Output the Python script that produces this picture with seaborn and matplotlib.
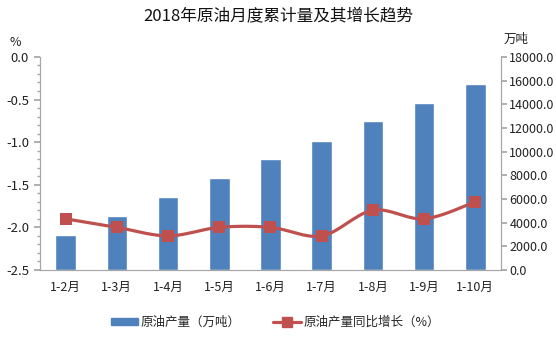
import numpy as np
import pandas as pd
import matplotlib
matplotlib.use("Agg")
import matplotlib.pyplot as plt
import seaborn as sns
from matplotlib.ticker import MultipleLocator, FormatStrFormatter
from matplotlib.lines import Line2D
from matplotlib.patches import Patch

months = ["1-2月", "1-3月", "1-4月", "1-5月", "1-6月", "1-7月", "1-8月", "1-9月", "1-10月"]
output_wt = [2990, 4600, 6170, 7800, 9360, 10930, 12570, 14090, 15700]   # 万吨
growth_pct = [-1.9, -2.0, -2.1, -2.0, -2.0, -2.1, -1.8, -1.9, -1.7]       # %

sns.set_theme(style="white")
plt.rcParams["font.family"] = ["Noto Sans CJK SC", "DejaVu Sans"]

BAR_C = "#4F81BD"
LINE_C = "#C0504D"
AXIS_C = "#A6A6A6"

fig = plt.figure(figsize=(5.56, 3.43), dpi=100)
ax = fig.add_axes([0.072, 0.213, 0.829, 0.621])

df = pd.DataFrame({"月份": months, "产量": output_wt, "增长": growth_pct})

# bars: cumulative output on the right-hand scale
sns.barplot(data=df, x="月份", y="产量", color=BAR_C, width=0.4, saturation=1, ax=ax)
ax.set_ylim(0, 18000)
ax.yaxis.set_major_locator(MultipleLocator(2000))
ax.yaxis.set_major_formatter(FormatStrFormatter("%.1f"))
ax.set_xlabel("")
ax.set_ylabel("")
ax.set_xlim(-0.5, len(months) - 0.5)

# line: year-on-year growth on the left-hand scale
ax2 = ax.twinx()
ax.yaxis.tick_right()
ax2.yaxis.tick_left()
ax2.set_ylim(-2.5, 0.0)
ax2.yaxis.set_major_locator(MultipleLocator(0.5))
ax2.yaxis.set_minor_locator(MultipleLocator(0.1))
ax2.yaxis.set_major_formatter(FormatStrFormatter("%.1f"))


def smooth(xs, ys, n=20, t=0.5):
    """Catmull-Rom style smoothing through the given points."""
    xs = np.asarray(xs, float)
    ys = np.asarray(ys, float)
    px = np.concatenate([[xs[0]], xs, [xs[-1]]])
    py = np.concatenate([[ys[0]], ys, [ys[-1]]])
    ox, oy = [], []
    for i in range(1, len(px) - 2):
        p0, p1, p2, p3 = (np.array([px[j], py[j]]) for j in (i - 1, i, i + 1, i + 2))
        m1 = t * (p2 - p0)
        m2 = t * (p3 - p1)
        s = np.linspace(0, 1, n)
        h00 = 2 * s**3 - 3 * s**2 + 1
        h10 = s**3 - 2 * s**2 + s
        h01 = -2 * s**3 + 3 * s**2
        h11 = s**3 - s**2
        pts = (np.outer(h00, p1) + np.outer(h10, m1) + np.outer(h01, p2) + np.outer(h11, m2))
        ox.extend(pts[:, 0])
        oy.extend(pts[:, 1])
    return np.array(ox), np.array(oy)


xi = np.arange(len(months))
sx, sy = smooth(xi, growth_pct)
ax2.plot(sx, sy, color=LINE_C, lw=2.3, zorder=3)
sns.scatterplot(x=xi, y=growth_pct, marker="s", s=70, color=LINE_C,
                edgecolor=LINE_C, linewidth=0, ax=ax2, zorder=4)

for a in (ax, ax2):
    a.spines["top"].set_visible(False)
    for side in ("left", "right", "bottom"):
        a.spines[side].set_color(AXIS_C)
        a.spines[side].set_linewidth(0.8)

ax.tick_params(axis="y", which="major", direction="out", length=4, color=AXIS_C,
               labelsize=9, pad=2, right=True, left=False,
               labelright=True, labelleft=False)
ax.tick_params(axis="x", length=0, labelsize=9, pad=8)
ax2.tick_params(axis="y", which="major", direction="out", length=4, color=AXIS_C,
                labelsize=9.5, pad=4, left=True, right=False,
                labelleft=True, labelright=False)
ax2.tick_params(axis="y", which="minor", direction="out", length=2.5, color=AXIS_C,
                left=True, right=False)
for lab in ax.get_xticklabels() + ax.get_yticklabels() + ax2.get_yticklabels():
    lab.set_color("#222222")

fig.text(0.5, 0.955, "2018年原油月度累计量及其增长趋势", ha="center", va="center",
         fontsize=12, color="#111111")
fig.text(0.028, 0.876, "%", ha="center", va="center", fontsize=9, color="#222222")
fig.text(0.928, 0.884, "万吨", ha="center", va="center", fontsize=9, color="#222222")

handles = [
    Patch(facecolor=BAR_C, edgecolor=BAR_C),
    Line2D([0], [0], color=LINE_C, lw=2.3, marker="s", markersize=7,
           markerfacecolor=LINE_C, markeredgecolor=LINE_C),
]
fig.legend(handles, ["原油产量（万吨）", "原油产量同比增长（%）"], loc="center",
           bbox_to_anchor=(0.495, 0.06), ncol=2, frameon=False, fontsize=9,
           handlelength=2.2, handleheight=0.45, columnspacing=2.6, handletextpad=0.2)

fig.savefig("out.png", dpi=100, facecolor="white")
